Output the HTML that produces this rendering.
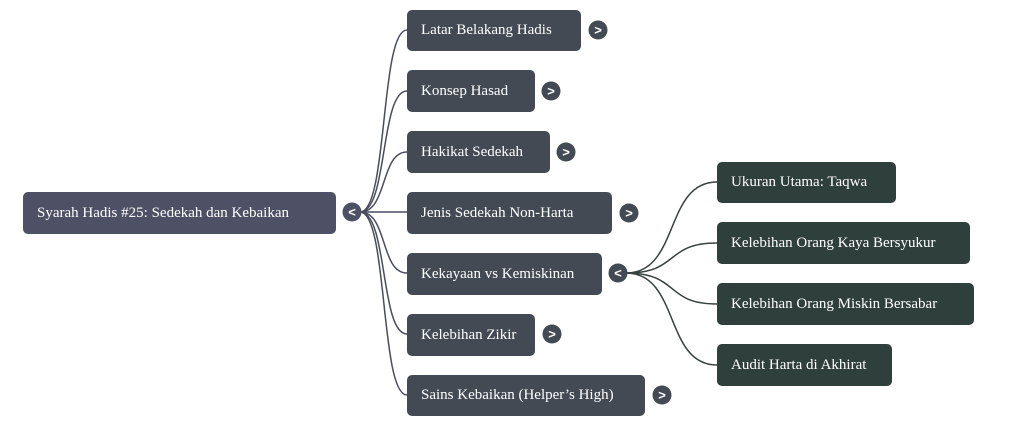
<!DOCTYPE html>
<html><head><meta charset="utf-8"><style>
body{margin:0;width:1023px;height:426px;background:#fff;position:relative;overflow:hidden;font-family:"Liberation Serif",serif;}
.n{position:absolute;color:#fff;font-size:15px;border-radius:5px;box-sizing:border-box;padding-left:14px;display:flex;align-items:center;}
.r{background:#4e5066;}
.m{background:#434a54;}
.g{background:#2f3f3b;}
svg{position:absolute;left:0;top:0;}
</style></head><body>
<svg width="1023" height="426">
<g fill="none" stroke="#4a4d5e" stroke-width="1.5">
<path d="M360 212 C388 212,380 30,407 30"/>
<path d="M360 212 C388 212,380 91,407 91"/>
<path d="M360 212 C388 212,380 152,407 152"/>
<path d="M360 212 L407 212"/>
<path d="M360 212 C388 212,380 273,407 273"/>
<path d="M360 212 C388 212,380 334,407 334"/>
<path d="M360 212 C388 212,380 395,407 395"/>
<path stroke="#3a4240" d="M626 273 C680 273,664 182,717 182"/>
<path stroke="#3a4240" d="M626 273 C680 273,664 243,717 243"/>
<path stroke="#3a4240" d="M626 273 C680 273,664 304,717 304"/>
<path stroke="#3a4240" d="M626 273 C680 273,664 365,717 365"/>
</g>
<g font-family="Liberation Sans,sans-serif" font-size="13" font-weight="bold" fill="#fff" text-anchor="middle">
<circle cx="352" cy="212" r="9.5" fill="#4e5066"/><text x="352" y="216.5">&lt;</text>
<circle cx="598" cy="30" r="9.5" fill="#434a54"/><text x="598" y="34.5">&gt;</text>
<circle cx="551" cy="91" r="9.5" fill="#434a54"/><text x="551" y="95.5">&gt;</text>
<circle cx="566" cy="152" r="9.5" fill="#434a54"/><text x="566" y="156.5">&gt;</text>
<circle cx="629" cy="213" r="9.5" fill="#434a54"/><text x="629" y="217.5">&gt;</text>
<circle cx="618" cy="273" r="9.5" fill="#434a54"/><text x="618" y="277.5">&lt;</text>
<circle cx="552" cy="334" r="9.5" fill="#434a54"/><text x="552" y="338.5">&gt;</text>
<circle cx="662" cy="395" r="9.5" fill="#434a54"/><text x="662" y="399.5">&gt;</text>
</g>
</svg>
<div class="n r" style="left:23px;top:192px;width:313px;height:42px;">Syarah Hadis #25: Sedekah dan Kebaikan</div>
<div class="n m" style="left:407px;top:10px;width:174px;height:41px;">Latar Belakang Hadis</div>
<div class="n m" style="left:407px;top:70px;width:128px;height:42px;">Konsep Hasad</div>
<div class="n m" style="left:407px;top:131px;width:143px;height:42px;">Hakikat Sedekah</div>
<div class="n m" style="left:407px;top:192px;width:205px;height:42px;">Jenis Sedekah Non-Harta</div>
<div class="n m" style="left:407px;top:253px;width:195px;height:42px;">Kekayaan vs Kemiskinan</div>
<div class="n m" style="left:407px;top:314px;width:128px;height:42px;">Kelebihan Zikir</div>
<div class="n m" style="left:407px;top:375px;width:238px;height:41px;">Sains Kebaikan (Helper’s High)</div>
<div class="n g" style="left:717px;top:162px;width:179px;height:41px;">Ukuran Utama: Taqwa</div>
<div class="n g" style="left:717px;top:222px;width:253px;height:42px;">Kelebihan Orang Kaya Bersyukur</div>
<div class="n g" style="left:717px;top:283px;width:257px;height:42px;">Kelebihan Orang Miskin Bersabar</div>
<div class="n g" style="left:717px;top:344px;width:175px;height:42px;">Audit Harta di Akhirat</div>
</body></html>
